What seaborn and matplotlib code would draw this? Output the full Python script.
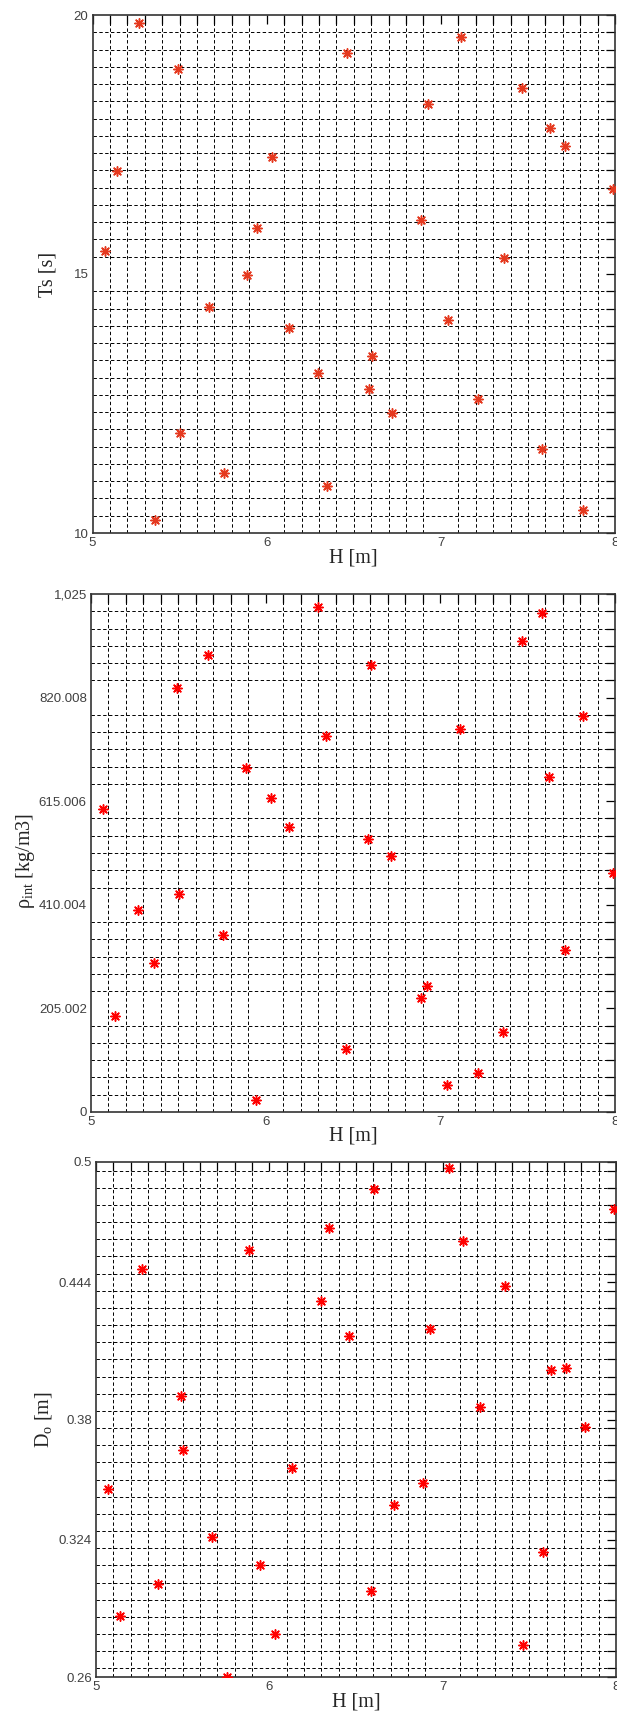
import matplotlib
matplotlib.use("Agg")
import matplotlib.pyplot as plt
import seaborn as sns
import pandas as pd
from matplotlib.ticker import MultipleLocator, FixedLocator

# sample values (30 samples)
H = [5.069, 5.140, 5.268, 5.358, 5.492, 5.503, 5.669, 5.757, 5.885, 5.946,
     6.033, 6.131, 6.297, 6.345, 6.459, 6.587, 6.602, 6.719, 6.887, 6.925,
     7.039, 7.115, 7.215, 7.360, 7.466, 7.580, 7.624, 7.714, 7.819, 7.986]
Ts = [15.45, 16.98, 19.85, 10.26, 18.95, 11.94, 14.36, 11.15, 14.99, 15.89,
      17.25, 13.96, 13.09, 10.91, 19.26, 12.78, 13.41, 12.32, 16.04, 18.29,
      14.11, 19.58, 12.59, 15.30, 18.60, 11.62, 17.81, 17.48, 10.45, 16.65]
rho_int = [599.7, 189.0, 398.8, 295.0, 838.6, 431.0, 905.2, 351.0, 681.6, 23.0,
           621.0, 563.7, 998.4, 745.0, 125.0, 540.0, 885.0, 507.0, 225.0, 250.0,
           53.8, 758.0, 78.0, 157.4, 932.0, 988.0, 663.0, 321.4, 784.0, 472.0]
D0 = [0.3474, 0.2883, 0.4500, 0.3033, 0.3910, 0.3660, 0.3254, 0.2600, 0.4589, 0.3123,
      0.2799, 0.3575, 0.4354, 0.4693, 0.4188, 0.3001, 0.4874, 0.3400, 0.3502, 0.4222,
      0.4972, 0.4632, 0.3859, 0.4423, 0.2751, 0.3182, 0.4033, 0.4041, 0.3766, 0.4783]

x_ticks = [5, 6, 7, 8]
x_labels = ['5', '6', '7', '8']
ts_ticks = [10, 15, 20]
ts_labels = ['10', '15', '20']
rho_ticks = [0, 205.002, 410.004, 615.006, 820.008, 1025.01]
rho_labels = ['0', '205.002', '410.004', '615.006', '820.008', '1,025']
d0_ticks = [0.26, 0.324, 0.38, 0.444, 0.5]
d0_labels = ['0.26', '0.324', '0.38', '0.444', '0.5']

df = pd.DataFrame({'H': H, 'Ts': Ts, 'rho': rho_int, 'D0': D0})

sns.set_style("white")
plt.rcParams['font.family'] = ['Liberation Sans', 'DejaVu Sans']
plt.rcParams['mathtext.fontset'] = 'custom'
plt.rcParams['mathtext.rm'] = 'Liberation Serif'
plt.rcParams['mathtext.it'] = 'Liberation Serif:italic'

W, Hpx = 617, 1722
fig = plt.figure(figsize=(W / 100, Hpx / 100), dpi=100)

panels = [
    # column, ylim, ticks, labels, minor step, ylabel, colour, box(px), ylabel x, ylabel y shift
    ('Ts', (10, 20), ts_ticks, ts_labels, 10 / 30, 'Ts [s]', '#e5391f',
     (92.5, 15, 615, 533), 57, 0),
    ('rho', (0, 1025.01), rho_ticks, rho_labels, 1025.01 / 30,
     'ρ$_\\mathrm{int}$ [kg/m3]', '#ff0000', (91, 594, 615, 1112), 37, 8),
    ('D0', (0.26, 0.5), d0_ticks, d0_labels, 0.008, 'D$_\\mathrm{o}$ [m]',
     '#ff0000', (96, 1162, 616, 1677), 54, 0),
]

serif = {'family': 'Liberation Serif', 'size': 14.5}

for col, ylim, yt, yl, ystep, ylabel, colour, box, ylab_x, ylab_dy in panels:
    l, t, r, b = box
    ax = fig.add_axes([l / W, 1 - b / Hpx, (r - l) / W, (b - t) / Hpx])
    sns.scatterplot(data=df, x='H', y=col, ax=ax, marker=(8, 2, 0), s=45,
                    color=colour, edgecolor=colour, linewidth=1.1, zorder=3)
    ax.set_xlim(5, 8)
    ax.set_ylim(*ylim)
    ax.xaxis.set_major_locator(FixedLocator(x_ticks))
    ax.set_xticklabels(x_labels)
    ax.yaxis.set_major_locator(FixedLocator(yt))
    ax.set_yticklabels(yl)
    ax.xaxis.set_minor_locator(MultipleLocator(0.1))
    ax.yaxis.set_minor_locator(MultipleLocator(ystep))
    ax.grid(which='minor', color='black', linestyle=(0, (3.5, 2.5)), linewidth=0.7)
    ax.grid(which='major', visible=False)
    ax.tick_params(which='both', direction='in', top=True, right=True,
                   length=6.5, width=0.9, color='black')
    ax.tick_params(which='major', labelsize=9.5, labelcolor='#404040', pad=3)
    for s in ax.spines.values():
        s.set_color('#333333')
        s.set_linewidth(1.2)
    ax.set_xlabel('H [m]', fontdict=serif)
    ax.set_ylabel(ylabel, fontdict=serif)
    ax.xaxis.set_label_coords(0.5, -15 / (b - t))
    ax.yaxis.set_label_coords((ylab_x - l) / (r - l), 0.5 - ylab_dy / (b - t))

fig.savefig('out.png', dpi=100)
